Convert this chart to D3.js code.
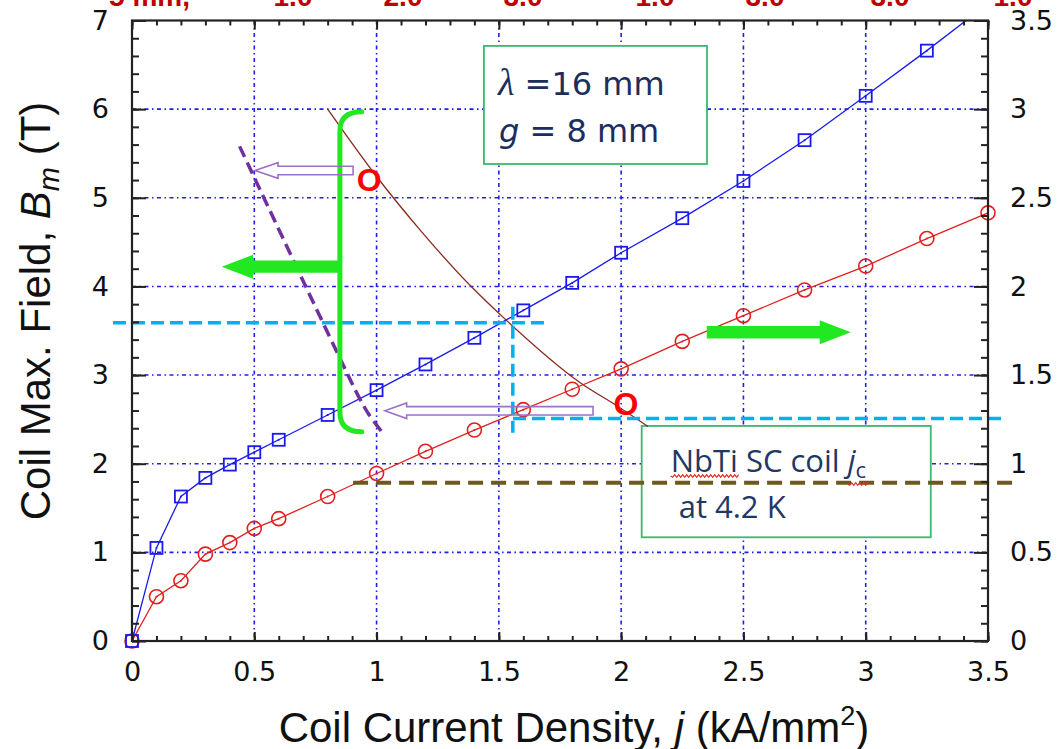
<!DOCTYPE html>
<html>
<head>
<meta charset="utf-8">
<script src="https://cdn.jsdelivr.net/npm/d3@7"></script>
<style>
body { margin: 0; background: #fff; }
svg { display: block; }
</style>
</head>
<body>
<script>
// coil current density j (kA/mm^2) of the computed points
const jPoints = [0, 0.1, 0.2, 0.3, 0.4, 0.5, 0.6, 0.8, 1.0, 1.2, 1.4, 1.6, 1.8, 2.0, 2.25, 2.5, 2.75, 3.0, 3.25, 3.5]
// coil max field Bm (T), left axis, blue squares
const bmField = [0, 1.05, 1.63, 1.84, 1.99, 2.13, 2.27, 2.55, 2.83, 3.12, 3.42, 3.73, 4.04, 4.38, 4.77, 5.19, 5.65, 6.15, 6.66, 7.19]
// right axis series, red circles
const rightVals = [0, 0.25, 0.34, 0.49, 0.555, 0.635, 0.69, 0.815, 0.945, 1.07, 1.19, 1.305, 1.42, 1.535, 1.69, 1.835, 1.98, 2.115, 2.27, 2.415]
// NbTi critical current line (j, B)
const jcJ = [0.8, 1.0, 1.18, 1.39, 1.53, 1.83, 1.99, 2.11]
const jcB = [6.0, 5.24, 4.63, 3.99, 3.62, 2.92, 2.64, 2.42]
// hand drawn purple dashed line (j, B)
const purpleJ = [0.44, 0.85, 0.93, 0.97, 1.03]
const purpleB = [5.58, 3.19, 2.74, 2.55, 2.33]

const xTicks = [0, 0.5, 1, 1.5, 2, 2.5, 3, 3.5]
const yLeftTicks = [0, 1, 2, 3, 4, 5, 6, 7]
const yRightTicks = [0, 0.5, 1, 1.5, 2, 2.5, 3, 3.5]
const topLabels = ['1.0', '2.0', '3.0', '1.0', '3.0', '3.0', '1.0']

const w = 1057
const h = 749

const xScale = d3.scaleLinear().domain([0, 3.5]).range([132, 988])
const yLeft = d3.scaleLinear().domain([0, 7]).range([641, 20.5])
const yRight = d3.scaleLinear().domain([0, 3.5]).range([641, 20.5])

const numFont = '"DejaVu Sans", sans-serif'
const titleFont = '"Liberation Sans", Arial, sans-serif'
const navy = '#1c2e5e'
const green = '#22e822'

const svg = d3.select('body')
    .append('svg')
    .attr('width', w)
    .attr('height', h)

// only the top edge cuts the data
svg.append('defs').append('clipPath')
    .attr('id', 'plot')
    .append('rect')
    .attr('x', 0).attr('y', 20.5)
    .attr('width', w).attr('height', h)

// cut off red row at the very top
const topX = [293, 403, 523, 655, 765, 890, 1013]
svg.append('text')
    .attr('x', 190).attr('y', 6)
    .attr('text-anchor', 'end')
    .style('font-family', titleFont).style('font-weight', 'bold').style('font-size', '28px')
    .attr('fill', '#c00000')
    .text('5 mm,')
svg.append('g').selectAll('text')
    .data(topLabels)
    .enter()
    .append('text')
    .attr('x', (d, i) => topX[i]).attr('y', 6)
    .attr('text-anchor', 'middle')
    .style('font-family', titleFont).style('font-weight', 'bold').style('font-size', '28px')
    .attr('fill', '#c00000')
    .text(d => d)

// grid
const grid = svg.append('g')
    .attr('stroke', '#1f1fe8')
    .attr('stroke-width', 1.6)
    .attr('stroke-dasharray', '4,3.5,1.5,3.5')
grid.selectAll('.vg')
    .data(xTicks.slice(1, -1))
    .enter()
    .append('line')
    .attr('x1', d => xScale(d)).attr('x2', d => xScale(d))
    .attr('y1', yLeft(7)).attr('y2', yLeft(0))
grid.selectAll('.hg')
    .data(yLeftTicks.slice(1, -1))
    .enter()
    .append('line')
    .attr('x1', xScale(0)).attr('x2', xScale(3.5))
    .attr('y1', d => yLeft(d)).attr('y2', d => yLeft(d))

// text boxes (white, hide grid)
const box1 = {x0: 1.439, x1: 2.351, y0: 6.713, y1: 5.381}
const box2 = {x0: 2.084, x1: 3.266, y0: 2.426, y1: 1.17}
;[box1, box2].forEach(b => {
    svg.append('rect')
        .attr('x', xScale(b.x0)).attr('y', yLeft(b.y0))
        .attr('width', xScale(b.x1) - xScale(b.x0))
        .attr('height', yLeft(b.y1) - yLeft(b.y0))
        .attr('fill', '#fff')
        .attr('stroke', '#3cb870')
        .attr('stroke-width', 1.8)
})

const plot = svg.append('g').attr('clip-path', 'url(#plot)')

// NbTi jc line
plot.append('path')
    .datum(jcJ.map((d, i) => [d, jcB[i]]))
    .attr('fill', 'none')
    .attr('stroke', '#8b2a1e')
    .attr('stroke-width', 1.3)
    .attr('d', d3.line().x(d => xScale(d[0])).y(d => yLeft(d[1])).curve(d3.curveMonotoneX))

const blueData = jPoints.map((d, i) => ({j: d, v: bmField[i]}))
const redData = jPoints.map((d, i) => ({j: d, v: rightVals[i]}))

plot.append('path')
    .datum(redData)
    .attr('fill', 'none')
    .attr('stroke', '#e02020')
    .attr('stroke-width', 1.3)
    .attr('d', d3.line().x(d => xScale(d.j)).y(d => yRight(d.v)))

plot.append('path')
    .datum(blueData)
    .attr('fill', 'none')
    .attr('stroke', '#1a1aee')
    .attr('stroke-width', 1.3)
    .attr('d', d3.line().x(d => xScale(d.j)).y(d => yLeft(d.v)))

plot.selectAll('.circ')
    .data(redData)
    .enter()
    .append('circle')
    .attr('cx', d => xScale(d.j))
    .attr('cy', d => yRight(d.v))
    .attr('r', 7)
    .attr('fill', 'none')
    .attr('stroke', '#e02020')
    .attr('stroke-width', 1.6)
plot.selectAll('.cdot')
    .data(redData)
    .enter()
    .append('circle')
    .attr('cx', d => xScale(d.j))
    .attr('cy', d => yRight(d.v))
    .attr('r', 1)
    .attr('fill', '#e02020')

plot.selectAll('.sq')
    .data(blueData)
    .enter()
    .append('rect')
    .attr('x', d => xScale(d.j) - 6)
    .attr('y', d => yLeft(d.v) - 6)
    .attr('width', 12).attr('height', 12)
    .attr('fill', 'none')
    .attr('stroke', '#1a1aee')
    .attr('stroke-width', 1.8)
plot.selectAll('.sdot')
    .data(blueData)
    .enter()
    .append('circle')
    .attr('cx', d => xScale(d.j))
    .attr('cy', d => yLeft(d.v))
    .attr('r', 1)
    .attr('fill', '#1a1aee')

// olive dashed jc level
svg.append('line')
    .attr('x1', xScale(0.904)).attr('x2', xScale(3.6))
    .attr('y1', yLeft(1.786)).attr('y2', yLeft(1.786))
    .attr('stroke', '#6e5a18').attr('stroke-width', 4)
    .attr('stroke-dasharray', '15,8')

// cyan dashed guides
const cyan = svg.append('g')
    .attr('stroke', '#00b0f0').attr('stroke-width', 3.5)
    .attr('stroke-dasharray', '13,6')
cyan.append('line')
    .attr('x1', xScale(-0.078)).attr('x2', xScale(1.704))
    .attr('y1', yLeft(3.59)).attr('y2', yLeft(3.59))
cyan.append('line')
    .attr('x1', xScale(1.557)).attr('x2', xScale(1.557))
    .attr('y1', yLeft(3.77)).attr('y2', yLeft(2.35))
cyan.append('line')
    .attr('x1', xScale(1.558)).attr('x2', xScale(3.57))
    .attr('y1', yLeft(2.51)).attr('y2', yLeft(2.51))

// purple dashed hand line
svg.append('path')
    .datum(purpleJ.map((d, i) => [d, purpleB[i]]))
    .attr('fill', 'none')
    .attr('stroke', '#7030a0')
    .attr('stroke-width', 3.5)
    .attr('stroke-dasharray', '12,6')
    .attr('d', d3.line().x(d => xScale(d[0])).y(d => yLeft(d[1])).curve(d3.curveCatmullRom))

// green brace
const bx = xScale(0.85)
svg.append('path')
    .attr('fill', 'none')
    .attr('stroke', green)
    .attr('stroke-width', 5)
    .attr('stroke-linecap', 'round')
    .attr('d', `M${xScale(0.939)},${yLeft(5.97)} Q${bx},${yLeft(5.97)} ${bx},${yLeft(5.75)}`
        + ` L${bx},${yLeft(2.58)} Q${bx},${yLeft(2.36)} ${xScale(0.939)},${yLeft(2.36)}`)

function blockArrow(tip, base, tail, y, shaft, head) {
    const yy = yLeft(y)
    const t = xScale(tip), b = xScale(base), e = xScale(tail)
    return `M${t},${yy} L${b},${yy - head} L${b},${yy - shaft} L${e},${yy - shaft}`
        + ` L${e},${yy + shaft} L${b},${yy + shaft} L${b},${yy + head} Z`
}

svg.append('path').attr('fill', green)
    .attr('d', blockArrow(0.367, 0.495, 0.85, 4.223, 6.2, 12))
svg.append('path').attr('fill', green)
    .attr('d', blockArrow(2.939, 2.812, 2.35, 3.483, 6.3, 12))

// hollow purple arrows
svg.append('path').attr('fill', 'none').attr('stroke', '#9b72c8').attr('stroke-width', 1.6)
    .attr('d', blockArrow(0.503, 0.597, 0.904, 5.308, 4.2, 7.8))
svg.append('path').attr('fill', 'none').attr('stroke', '#9b72c8').attr('stroke-width', 1.6)
    .attr('d', blockArrow(1.034, 1.123, 1.885, 2.597, 4.2, 7.8))

// red O markers
;[[0.97, 5.2], [2.02, 2.674]].forEach(p => {
    svg.append('text')
        .attr('x', xScale(p[0])).attr('y', yLeft(p[1]))
        .attr('text-anchor', 'middle')
        .attr('dominant-baseline', 'central')
        .style('font-family', titleFont).style('font-weight', 'bold').style('font-size', '32px')
        .attr('fill', '#ff0000')
        .text('O')
})

// box 1 text
const b1x = xScale(box1.x0), b1y = yLeft(box1.y0)
const l1 = svg.append('text').attr('x', b1x + 14).attr('y', b1y + 49)
    .style('font-family', numFont).style('font-size', '32px').attr('fill', navy)
l1.append('tspan').style('font-family', '"Liberation Serif", serif').style('font-style', 'italic').style('font-size', '38px').text('λ')
l1.append('tspan').text(' =16 mm')
const l2 = svg.append('text').attr('x', b1x + 15).attr('y', b1y + 96)
    .style('font-family', numFont).style('font-size', '32px').attr('fill', navy)
l2.append('tspan').style('font-style', 'italic').text('g')
l2.append('tspan').text(' = 8 mm')

// box 2 text
const b2x = xScale(box2.x0), b2y = yLeft(box2.y0)
const t1 = svg.append('text').attr('x', b2x + 29).attr('y', b2y + 46)
    .style('font-family', '"Open Sans", sans-serif').style('font-size', '31px').attr('fill', '#1f3864')
t1.append('tspan').text('NbTi SC coil ')
t1.append('tspan').style('font-style', 'italic').text('j')
t1.append('tspan').attr('dy', 6).style('font-size', '22px').text('c')
svg.append('text').attr('x', b2x + 37).attr('y', b2y + 92)
    .style('font-family', '"Open Sans", sans-serif').style('font-size', '31px').attr('fill', '#1f3864')
    .text('at 4.2 K')

function wavy(xa, xb, y) {
    let d = `M${xa},${y}`
    for (let xx = xa, k = 0; xx < xb; xx += 2, k++) d += ` L${xx + 2},${y + (k % 2 ? -1.3 : 1.3)}`
    return d
}
const tn = t1.node()
const nEnd = tn.getEndPositionOfChar(3).x
const jStart = tn.getStartPositionOfChar(13).x
const cEnd = tn.getEndPositionOfChar(14).x
svg.append('path').attr('fill', 'none').attr('stroke', '#e02a2a').attr('stroke-width', 1.2)
    .attr('d', wavy(b2x + 29, nEnd, b2y + 50))
svg.append('path').attr('fill', 'none').attr('stroke', '#e02a2a').attr('stroke-width', 1.2)
    .attr('d', wavy(jStart, cEnd, b2y + 58))

// axes
function styleAxis(g) {
    g.select('.domain').remove()
    g.selectAll('line').attr('stroke', '#222').attr('stroke-width', 2)
    g.selectAll('text').style('font-family', numFont).style('font-size', '27px').attr('fill', '#111')
}
const xMinor = d3.range(0, 36).map(i => i / 10)
const yLeftMinor = d3.range(0, 36).map(i => i / 5)
const yRightMinor = d3.range(0, 36).map(i => i / 10)
const fmt = d3.format('~g')

svg.append('g').attr('transform', 'translate(0,641)')
    .call(d3.axisBottom(xScale).tickValues(xMinor).tickSizeInner(-5).tickSizeOuter(0).tickFormat(''))
    .call(styleAxis)
svg.append('g').attr('transform', 'translate(0,641)')
    .call(d3.axisBottom(xScale).tickValues(xTicks).tickSizeInner(-9).tickSizeOuter(0).tickPadding(21).tickFormat(fmt))
    .call(styleAxis)
svg.append('g').attr('transform', 'translate(0,20.5)')
    .call(d3.axisTop(xScale).tickValues(xMinor).tickSizeInner(-5).tickSizeOuter(0).tickFormat(''))
    .call(styleAxis)
svg.append('g').attr('transform', 'translate(0,20.5)')
    .call(d3.axisTop(xScale).tickValues(xTicks).tickSizeInner(-9).tickSizeOuter(0).tickFormat(''))
    .call(styleAxis)
svg.append('g').attr('transform', 'translate(132,0)')
    .call(d3.axisLeft(yLeft).tickValues(yLeftMinor).tickSizeInner(-7).tickSizeOuter(0).tickFormat(''))
    .call(styleAxis)
svg.append('g').attr('transform', 'translate(132,0)')
    .call(d3.axisLeft(yLeft).tickValues(yLeftTicks).tickSizeInner(-14).tickSizeOuter(0).tickPadding(23).tickFormat(fmt))
    .call(styleAxis)
svg.append('g').attr('transform', 'translate(988,0)')
    .call(d3.axisRight(yRight).tickValues(yRightMinor).tickSizeInner(-7).tickSizeOuter(0).tickFormat(''))
    .call(styleAxis)
svg.append('g').attr('transform', 'translate(988,0)')
    .call(d3.axisRight(yRight).tickValues(yRightTicks).tickSizeInner(-14).tickSizeOuter(0).tickPadding(22).tickFormat(fmt))
    .call(styleAxis)

svg.append('rect')
    .attr('x', 132).attr('y', 20.5)
    .attr('width', 988 - 132).attr('height', 641 - 20.5)
    .attr('fill', 'none')
    .attr('stroke', '#222')
    .attr('stroke-width', 2.2)

// axis titles
const yTitle = svg.append('text')
    .attr('transform', 'translate(50,311) rotate(-90)')
    .attr('text-anchor', 'middle')
    .style('font-family', titleFont).style('font-size', '42px').attr('fill', '#111')
yTitle.append('tspan').text('Coil Max. Field, ')
yTitle.append('tspan').style('font-style', 'italic').text('B')
yTitle.append('tspan').style('font-style', 'italic').style('font-size', '29px').attr('dy', 9).text('m')
yTitle.append('tspan').attr('dy', -9).text(' (T)')

const xTitle = svg.append('text')
    .attr('x', 574).attr('y', 742)
    .attr('text-anchor', 'middle')
    .style('font-family', titleFont).style('font-size', '42px').attr('fill', '#111')
xTitle.append('tspan').text('Coil Current Density, ')
xTitle.append('tspan').style('font-style', 'italic').text('j')
xTitle.append('tspan').text(' (kA/mm')
xTitle.append('tspan').attr('dy', -17).style('font-size', '27px').text('2')
xTitle.append('tspan').attr('dy', 17).text(')')
</script>
</body>
</html>
